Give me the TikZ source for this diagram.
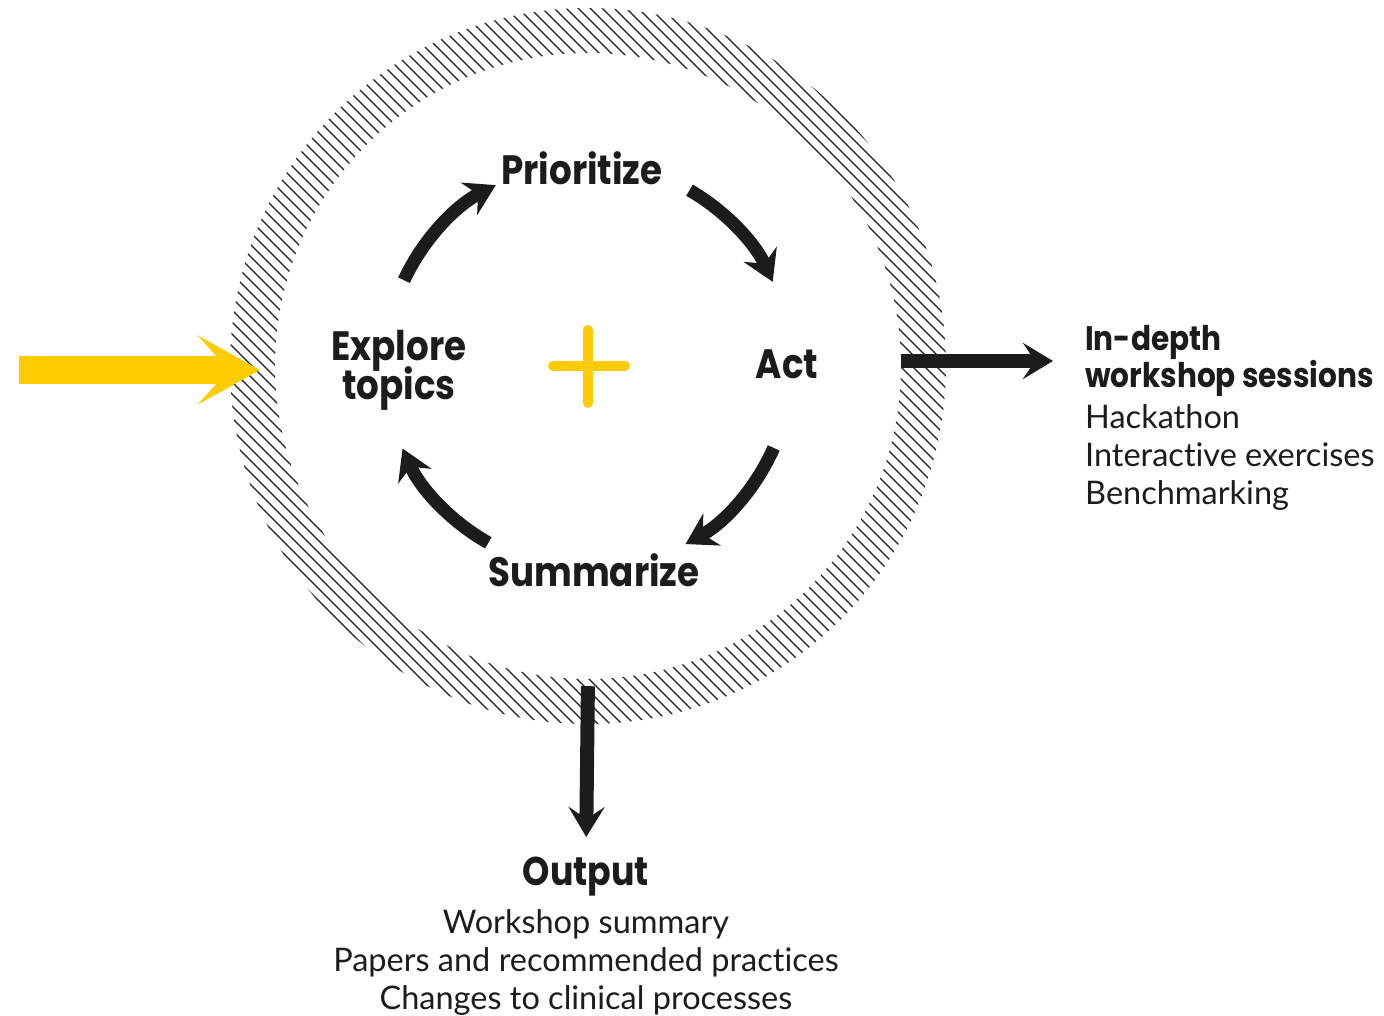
\documentclass[tikz,border=0pt]{standalone}
\usepackage{fontspec}
\setmainfont{Lato}[Ligatures=NoCommon]
\newfontfamily\headfont{Poppins}[FakeStretch=0.87]
\usetikzlibrary{arrows.meta}
\definecolor{gold}{HTML}{FFCC00}
\definecolor{ink}{HTML}{1C1C1C}
\newcommand\tightlines{\lineskiplimit=-50pt\relax}
\tikzset{
  stage/.style={font=\headfont\bfseries\fontsize{41}{39}\selectfont\tightlines, text=ink, align=center, inner sep=0pt},
  headtext/.style={font=\headfont\bfseries\fontsize{34}{37}\selectfont, text=ink, inner sep=0pt},
  listtext/.style={font=\fontsize{32.5}{38}\selectfont, text=ink, inner sep=0pt},
  roundarrow/.style={line width=13pt, ink, -{Stealth[length=30pt,width=36pt,inset=10pt]}},
  outarrow/.style={line width=14pt, ink, -{Stealth[length=30pt,width=36pt,inset=12pt]}},
}
\begin{document}
\begin{tikzpicture}[x=1pt,y=1pt]
  \useasboundingbox (-588,-650) rectangle (796,366);
  % hatched ring
  \begin{scope}[even odd rule]
    \clip (0,0) circle (358) circle (313);
    \foreach \c in {-720,-708,...,720}
      \draw[ink, line width=1.3pt] (\c-400,400) -- (\c+400,-400);
  \end{scope}
  \coordinate (c) at (0,0);
  \node[circle, minimum size=716pt, inner sep=0pt] (ring) at (c) {};
  \node[circle, minimum size=626pt, inner sep=0pt] (hub) at (c) {};
  % stages
  \node[stage] (prio) at (-6,198) {Prioritize};
  \node[stage] (act) at (199,2) {Act};
  \node[stage] (summ) at (6,-204) {Summarize};
  \node[stage] (expl) at (-189,-4) {Explore\\topics};
  \draw[gold, line width=10pt, line cap=round] (-35,0) -- (37,0) (0,36) -- (0,-37);
  \foreach \a/\b in {155/117, 60/24.5, -23.8/-61.3, -119.4/-156}
    \draw[roundarrow] (c) ++(\a:203) arc[start angle=\a, end angle=\b, radius=203];
  % side and output texts
  \node[headtext, align=left, anchor=north west] (depth) at (497,41) {In-depth\\workshop sessions};
  \node[listtext, align=left, anchor=north west] (tools) at (497,-38) {Hackathon\\Interactive exercises\\Benchmarking};
  \node[headtext, font=\headfont\bfseries\fontsize{40}{40}\selectfont, anchor=north] (out) at (-2,-491) {Output};
  \node[listtext, align=center, anchor=north] (results) at (-2,-543) {Workshop summary\\Papers and recommended practices\\Changes to clinical processes};
  % arrows in and out
  \coordinate (src) at (-569,-4);
  \draw[gold, line width=28pt, -{Stealth[length=62pt,width=69pt,inset=31pt]}] (src) -- ([xshift=30pt]src -| ring.west);
  \draw[outarrow, shorten >=32pt] ([yshift=5pt]hub.east) -- ([yshift=5pt]hub.east -| depth.west);
  \draw[outarrow, shorten <=7pt, shorten >=20pt] (hub.south) -- (out.north);
\end{tikzpicture}
\end{document}
